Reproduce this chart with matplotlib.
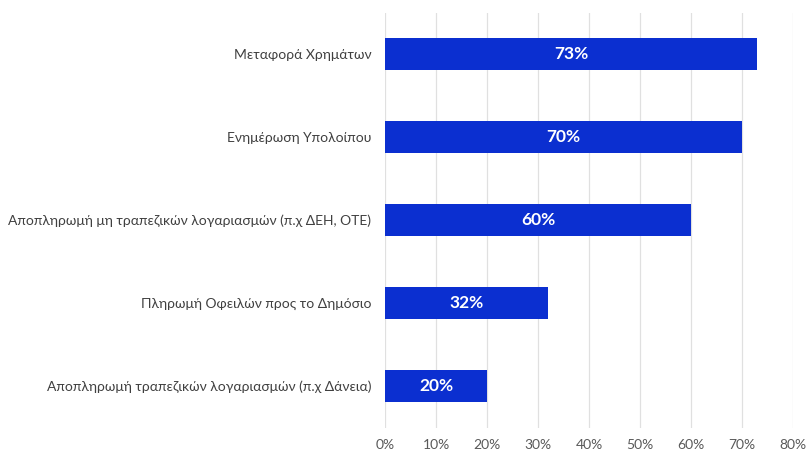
import matplotlib.pyplot as plt
from matplotlib.ticker import FuncFormatter

# Χρήση υπηρεσιών e-banking
categories = [
    'Μεταφορά Χρημάτων',
    'Ενημέρωση Υπολοίπου',
    'Αποπληρωμή μη τραπεζικών λογαριασμών (π.χ ΔΕΗ, ΟΤΕ)',
    'Πληρωμή Οφειλών προς το Δημόσιο',
    'Αποπληρωμή τραπεζικών λογαριασμών (π.χ Δάνεια)',
]
values = [73, 70, 60, 32, 20]
xticks = [0, 10, 20, 30, 40, 50, 60, 70, 80]

plt.rcParams['font.family'] = ['Lato', 'DejaVu Sans']

fig = plt.figure(figsize=(8.06, 4.55), dpi=100)
ax = fig.add_axes([0.478, 0.0604, 0.506, 0.9121])

y = list(range(len(categories)))
ax.barh(y, values, height=0.39, color='#0b2fd0', zorder=3)

for yi, v in zip(y, values):
    ax.text(v / 2, yi, f'{v}%', color='white', fontweight='bold',
            fontsize=12.5, ha='center', va='center', zorder=4)

ax.set_yticks(y)
ax.set_yticklabels(categories, fontsize=10, color='#404040')
ax.set_ylim(len(categories) - 0.5, -0.5)

ax.set_xlim(0, 80)
ax.set_xticks(xticks)
ax.xaxis.set_major_formatter(FuncFormatter(lambda x, _: f'{x:.0f}%'))
ax.tick_params(axis='x', labelsize=10, labelcolor='#595959', length=0, pad=8)
ax.tick_params(axis='y', length=0, pad=10)

ax.grid(axis='x', color='#e0e0e0', linewidth=0.9, zorder=0)
for s in ax.spines.values():
    s.set_visible(False)

fig.savefig('out.png', dpi=100)
